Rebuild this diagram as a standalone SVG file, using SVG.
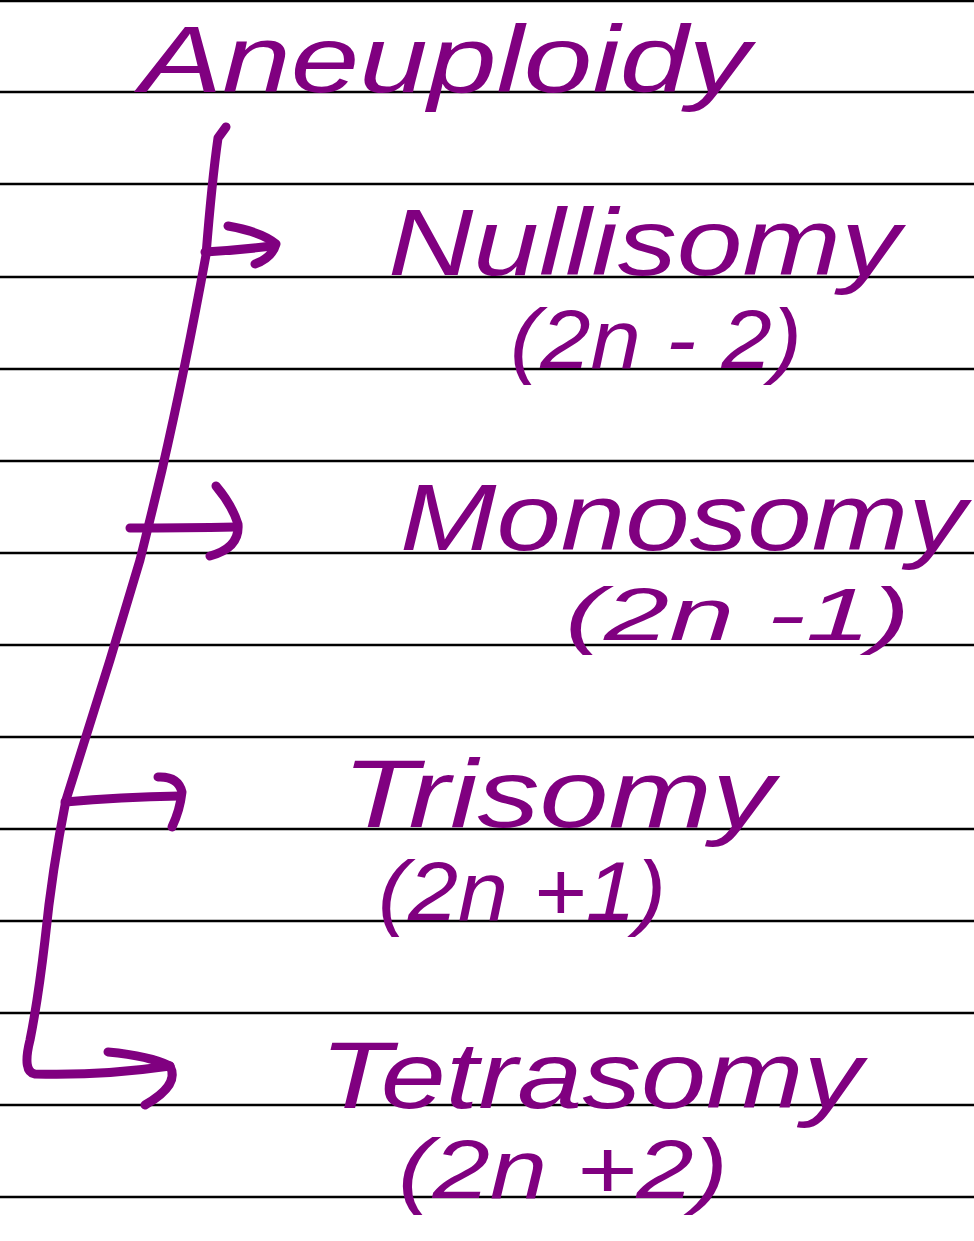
<svg xmlns="http://www.w3.org/2000/svg" width="974" height="1241" viewBox="0 0 974 1241">
<style>
.rule{stroke:#000;stroke-width:2.5}
.ink{fill:none;stroke:#800080;stroke-width:9;stroke-linecap:round;stroke-linejoin:round}
.t{fill:#800080;font-family:"Liberation Sans","DejaVu Sans",sans-serif;font-style:italic}
</style>
<rect width="974" height="1241" fill="#fff"/>
<g id="paper-lines">
<line class="rule" x1="0" y1="1" x2="974" y2="1"/>
<line class="rule" x1="0" y1="92" x2="974" y2="92"/>
<line class="rule" x1="0" y1="184" x2="974" y2="184"/>
<line class="rule" x1="0" y1="277" x2="974" y2="277"/>
<line class="rule" x1="0" y1="369" x2="974" y2="369"/>
<line class="rule" x1="0" y1="461" x2="974" y2="461"/>
<line class="rule" x1="0" y1="553" x2="974" y2="553"/>
<line class="rule" x1="0" y1="645" x2="974" y2="645"/>
<line class="rule" x1="0" y1="737" x2="974" y2="737"/>
<line class="rule" x1="0" y1="829" x2="974" y2="829"/>
<line class="rule" x1="0" y1="921" x2="974" y2="921"/>
<line class="rule" x1="0" y1="1013" x2="974" y2="1013"/>
<line class="rule" x1="0" y1="1105" x2="974" y2="1105"/>
<line class="rule" x1="0" y1="1197" x2="974" y2="1197"/>
</g>
<g id="connectors">
<path class="ink" d="M226,127 L218,138 Q212,180 206,255 Q185,370 162,470 Q150,520 140,560 Q122,620 110,660 Q85,740 66,800 Q52,870 45,940 Q38,1000 30,1040 Q22,1072 35,1074 Q100,1076 170,1066"/>
<path class="ink" d="M205,252 Q240,250 272,246"/>
<path class="ink" d="M228,226 Q262,232 276,244 Q272,258 255,264"/>
<path class="ink" d="M130,528 Q185,528 236,527"/>
<path class="ink" d="M216,486 Q232,505 238,524 Q240,548 210,556"/>
<path class="ink" d="M65,802 Q120,797 180,796"/>
<path class="ink" d="M158,777 Q178,776 182,792 Q180,810 172,827"/>
<path class="ink" d="M108,1052 Q150,1056 170,1066 Q180,1085 145,1105"/>
</g>
<g id="aneuploidy"><text class="t" x="140" y="92" font-size="94" textLength="610" lengthAdjust="spacingAndGlyphs">Aneuploidy</text></g>
<g id="nullisomy">
<text class="t" x="388" y="275" font-size="94" textLength="512" lengthAdjust="spacingAndGlyphs">Nullisomy</text>
<text class="t" x="510" y="368" font-size="84" textLength="292" lengthAdjust="spacingAndGlyphs">(2n - 2)</text>
</g>
<g id="monosomy">
<text class="t" x="400" y="550" font-size="94" textLength="566" lengthAdjust="spacingAndGlyphs">Monosomy</text>
<text class="t" x="565" y="640" font-size="74" textLength="345" lengthAdjust="spacingAndGlyphs">(2n -1)</text>
</g>
<g id="trisomy">
<text class="t" x="342" y="827" font-size="96" textLength="432" lengthAdjust="spacingAndGlyphs">Trisomy</text>
<text class="t" x="378" y="920" font-size="84" textLength="288" lengthAdjust="spacingAndGlyphs">(2n +1)</text>
</g>
<g id="tetrasomy">
<text class="t" x="320" y="1108" font-size="94" textLength="542" lengthAdjust="spacingAndGlyphs">Tetrasomy</text>
<text class="t" x="398" y="1198" font-size="84" textLength="330" lengthAdjust="spacingAndGlyphs">(2n +2)</text>
</g>
</svg>
